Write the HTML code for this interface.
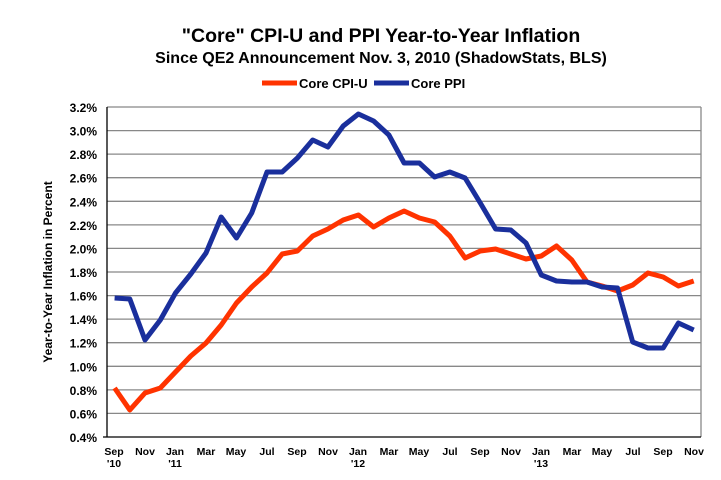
<!DOCTYPE html>
<html><head><style>body{margin:0;background:#fff}svg{display:block;font-family:"Liberation Sans",Arial,sans-serif;font-weight:bold}</style></head>
<body>
<svg width="721" height="480" xmlns="http://www.w3.org/2000/svg">
<text x="381" y="42" font-size="19.5" text-anchor="middle">"Core" CPI-U and PPI Year-to-Year Inflation</text>
<text x="381" y="63" font-size="16" text-anchor="middle">Since QE2 Announcement Nov. 3, 2010 (ShadowStats, BLS)</text>
<line x1="262" y1="83" x2="297" y2="83" stroke="#ff3300" stroke-width="5"/>
<text x="299" y="88" font-size="13">Core CPI-U</text>
<line x1="374" y1="83" x2="409" y2="83" stroke="#1a2f9c" stroke-width="5"/>
<text x="411" y="88" font-size="13">Core PPI</text>
<g stroke="#888" stroke-width="1.3">
<line x1="107" x2="701" y1="107" y2="107"/><line x1="107" x2="701" y1="130.6" y2="130.6"/><line x1="107" x2="701" y1="154.1" y2="154.1"/><line x1="107" x2="701" y1="177.7" y2="177.7"/><line x1="107" x2="701" y1="201.3" y2="201.3"/><line x1="107" x2="701" y1="224.9" y2="224.9"/><line x1="107" x2="701" y1="248.4" y2="248.4"/><line x1="107" x2="701" y1="272" y2="272"/><line x1="107" x2="701" y1="295.6" y2="295.6"/><line x1="107" x2="701" y1="319.1" y2="319.1"/><line x1="107" x2="701" y1="342.7" y2="342.7"/><line x1="107" x2="701" y1="366.3" y2="366.3"/><line x1="107" x2="701" y1="389.9" y2="389.9"/><line x1="107" x2="701" y1="413.4" y2="413.4"/>
<line x1="701" x2="701" y1="107" y2="437"/>
</g>
<line x1="107" x2="107" y1="107" y2="437" stroke="#000" stroke-width="1.3"/>
<line x1="103" x2="701" y1="437" y2="437" stroke="#000" stroke-width="1.3"/>
<g font-size="12" text-anchor="end">
<text x="97" y="112">3.2%</text><text x="97" y="135.6">3.0%</text><text x="97" y="159.1">2.8%</text><text x="97" y="182.7">2.6%</text><text x="97" y="206.3">2.4%</text><text x="97" y="229.9">2.2%</text><text x="97" y="253.4">2.0%</text><text x="97" y="277">1.8%</text><text x="97" y="300.6">1.6%</text><text x="97" y="324.1">1.4%</text><text x="97" y="347.7">1.2%</text><text x="97" y="371.3">1.0%</text><text x="97" y="394.9">0.8%</text><text x="97" y="418.4">0.6%</text><text x="97" y="442">0.4%</text>
</g>
<text transform="translate(52,272) rotate(-90)" font-size="12" text-anchor="middle">Year-to-Year Inflation in Percent</text>
<g font-size="10.5" text-anchor="middle">
<text x="114" y="455">Sep</text><text x="114" y="467">'10</text>
<text x="145" y="455">Nov</text>
<text x="175" y="455">Jan</text><text x="175" y="467">'11</text>
<text x="206" y="455">Mar</text><text x="236" y="455">May</text><text x="267" y="455">Jul</text><text x="297" y="455">Sep</text><text x="328" y="455">Nov</text>
<text x="358" y="455">Jan</text><text x="358" y="467">'12</text>
<text x="389" y="455">Mar</text><text x="419" y="455">May</text><text x="450" y="455">Jul</text><text x="480" y="455">Sep</text><text x="511" y="455">Nov</text>
<text x="541" y="455">Jan</text><text x="541" y="467">'13</text>
<text x="572" y="455">Mar</text><text x="602" y="455">May</text><text x="633" y="455">Jul</text><text x="663" y="455">Sep</text><text x="694" y="455">Nov</text>
</g>
<polyline fill="none" stroke="#ff3300" stroke-width="5" stroke-linejoin="round" points="114.6,388 129.8,410 145,393 160.3,388 175.5,372 190.8,356 206,343 221.2,325 236.5,303 251.7,287 267,273 282.2,254 297.4,251 312.7,236 327.9,229 343.2,220 358.4,215 373.6,227 388.9,218 404.1,211 419.4,218 434.6,222 449.8,236 465.1,258 480.3,251 495.6,249 510.8,254 526,259 541.3,256 556.5,246 571.8,260 587,282 602.2,286 617.5,291 632.7,285 648,273 663.2,277 678.4,286 693.7,281"/>
<polyline fill="none" stroke="#1a2f9c" stroke-width="5" stroke-linejoin="round" points="114.6,298 129.8,299 145,340 160.3,320 175.5,293 190.8,274 206,253 221.2,217 236.5,238 251.7,213 267,172 282.2,172 297.4,158 312.7,140 327.9,147 343.2,126 358.4,114 373.6,121 388.9,135 404.1,163 419.4,163 434.6,177 449.8,172 465.1,178 480.3,203 495.6,229 510.8,230 526,243 541.3,275 556.5,281 571.8,282 587,282 602.2,287 617.5,288 632.7,342 648,348 663.2,348 678.4,323 693.7,330"/>
</svg>
</body></html>
